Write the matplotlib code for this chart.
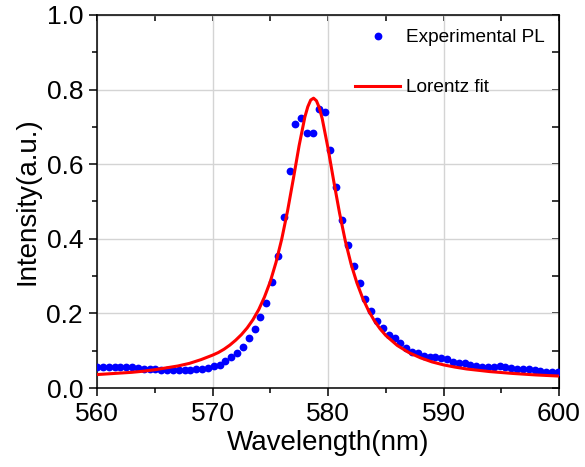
import numpy as np
import matplotlib
matplotlib.use("Agg")
import matplotlib.pyplot as plt
from matplotlib.ticker import MultipleLocator

plt.rcParams['font.family'] = ['Liberation Sans', 'DejaVu Sans']

# measured PL spectrum (nm, a.u.)
wavelength = [560.00, 560.51, 561.01, 561.52, 562.02, 562.53, 563.03, 563.54, 564.04, 564.55,
              565.05, 565.56, 566.06, 566.57, 567.07, 567.58, 568.08, 568.59, 569.09, 569.60,
              570.10, 570.61, 571.11, 571.62, 572.12, 572.63, 573.13, 573.64, 574.14, 574.65,
              575.15, 575.66, 576.16, 576.67, 577.17, 577.68, 578.18, 578.69, 579.19, 579.70,
              580.20, 580.71, 581.21, 581.72, 582.22, 582.73, 583.23, 583.74, 584.24, 584.75,
              585.25, 585.76, 586.26, 586.77, 587.27, 587.78, 588.28, 588.79, 589.29, 589.80,
              590.30, 590.81, 591.31, 591.82, 592.32, 592.83, 593.33, 593.84, 594.34, 594.85,
              595.35, 595.86, 596.36, 596.87, 597.37, 597.88, 598.38, 598.89, 599.39, 599.90]
intensity = [0.055, 0.056, 0.056, 0.055, 0.055, 0.056, 0.055, 0.054, 0.052, 0.051,
             0.050, 0.049, 0.048, 0.047, 0.047, 0.048, 0.049, 0.050, 0.052, 0.054,
             0.058, 0.062, 0.072, 0.084, 0.093, 0.111, 0.133, 0.158, 0.191, 0.227,
             0.285, 0.355, 0.459, 0.582, 0.707, 0.723, 0.684, 0.684, 0.747, 0.741,
             0.639, 0.540, 0.450, 0.383, 0.327, 0.281, 0.238, 0.206, 0.180, 0.162,
             0.141, 0.133, 0.120, 0.108, 0.097, 0.093, 0.087, 0.084, 0.084, 0.080,
             0.077, 0.071, 0.068, 0.066, 0.062, 0.059, 0.057, 0.055, 0.057, 0.059,
             0.055, 0.053, 0.052, 0.052, 0.051, 0.048, 0.046, 0.044, 0.043, 0.043]

# Lorentz fit curve
fit_x = [560, 561, 562, 563, 564, 565, 566, 567, 568, 569, 570, 570.5, 571, 571.5, 572,
         572.5, 573, 573.5, 574, 574.5, 575, 575.5, 576, 576.5, 577, 577.5, 578, 578.25,
         578.5, 578.75, 579, 579.25, 579.5, 580, 580.5, 581, 581.5, 582, 582.5, 583, 583.5,
         584, 584.5, 585, 586, 587, 588, 589, 590, 591, 592, 594, 596, 598, 600]
fit_y = [0.036, 0.038, 0.040, 0.042, 0.045, 0.049, 0.054, 0.059, 0.066, 0.076, 0.088,
         0.095, 0.104, 0.115, 0.128, 0.143, 0.161, 0.183, 0.210, 0.244, 0.285, 0.337,
         0.400, 0.475, 0.561, 0.650, 0.727, 0.754, 0.772, 0.777, 0.770, 0.751, 0.722,
         0.643, 0.554, 0.469, 0.394, 0.332, 0.282, 0.241, 0.208, 0.181, 0.159, 0.141,
         0.114, 0.095, 0.081, 0.070, 0.062, 0.056, 0.051, 0.044, 0.039, 0.035, 0.032]

fig = plt.figure(figsize=(5.85, 4.67), dpi=100)
ax = fig.add_axes([97/585, 79/467, 462/585, 373/467])

ax.plot(wavelength, intensity, 'o', color='#0000FF', ms=5.6, mec='none', label='Experimental PL', zorder=3)
ax.plot(fit_x, fit_y, '-', color='#FF0000', lw=2.2, label='Lorentz fit', zorder=4)

ax.set_xlim(560, 600)
ax.set_ylim(0, 1.0)
ax.xaxis.set_major_locator(MultipleLocator(10))
ax.xaxis.set_minor_locator(MultipleLocator(5))
ax.yaxis.set_major_locator(MultipleLocator(0.2))
ax.yaxis.set_minor_locator(MultipleLocator(0.1))
ax.yaxis.set_major_formatter(plt.FormatStrFormatter('%.1f'))
ax.grid(True, which='major', color='#d4d4d4', lw=1.0)
ax.set_axisbelow(True)

for s in ax.spines.values():
    s.set_linewidth(1.1)
ax.tick_params(which='major', direction='out', length=6, width=1.1, labelsize=19, pad=4)
ax.tick_params(which='minor', direction='out', length=3.5, width=1.1)

# inward ticks on top and right
top = ax.secondary_xaxis('top')
top.xaxis.set_major_locator(MultipleLocator(10))
top.xaxis.set_minor_locator(MultipleLocator(5))
top.tick_params(which='both', direction='in', length=4, width=1.1, labeltop=False)
right = ax.secondary_yaxis('right')
right.yaxis.set_major_locator(MultipleLocator(0.2))
right.yaxis.set_minor_locator(MultipleLocator(0.1))
right.tick_params(which='both', direction='in', length=5, width=1.1, labelright=False)

ax.set_xlabel('Wavelength(nm)', fontsize=20, labelpad=3)
ax.set_ylabel('Intensity(a.u.)', fontsize=20, labelpad=4)

ax.legend(loc='upper left', bbox_to_anchor=(0.558, 0.962), frameon=False, fontsize=13.7,
          borderpad=0, borderaxespad=0, labelspacing=1.7, handlelength=2.4,
          handletextpad=0.3, numpoints=1)

fig.savefig('out.png', dpi=100)
